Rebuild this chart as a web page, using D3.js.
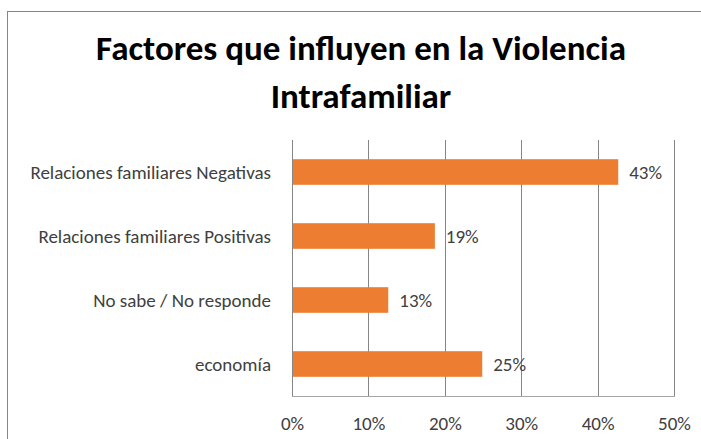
<!DOCTYPE html>
<html lang="es">
<head>
  <meta charset="utf-8">
  <title>Factores que influyen en la Violencia Intrafamiliar</title>
  <style type="text/css">
    body { margin: 0; background: #fff; }
    svg { display: block; font-family: Calibri, Carlito, Lato, sans-serif; }
  </style>
  <script src="https://cdnjs.cloudflare.com/ajax/libs/d3/7.8.5/d3.min.js"></script>
</head>
<body>
  <div id="chart"></div>
  <script>
  // datos
  var categories = ["Relaciones familiares Negativas", "Relaciones familiares Positivas", "No sabe / No responde", "economía"];
  var values = [0.427, 0.187, 0.126, 0.249];
  var ticks = [0, 0.1, 0.2, 0.3, 0.4, 0.5];
  var titleLines = ["Factores que influyen en la Violencia", "Intrafamiliar"];

  var w = 701, h = 439;
  var plotLeft = 292, plotRight = 674, plotTop = 140, plotBottom = 396;
  var labelSize = "19px";

  var svg = d3.select("#chart").append("svg")
    .attr("width", w)
    .attr("height", h);

  // marco del grafico
  svg.append("rect")
    .attr("x", 7.5).attr("y", 11.5)
    .attr("width", 720).attr("height", 460)
    .style("fill", "none")
    .style("stroke", "#868686")
    .style("stroke-width", 1);

  var x = d3.scaleLinear().domain([0, 0.5]).range([plotLeft, plotRight]);
  var y = d3.scaleBand().domain(categories).range([plotTop, plotBottom]).paddingInner(0.6).paddingOuter(0.3);

  // titulo
  svg.append("g").selectAll("text")
    .data(titleLines)
    .enter().append("text")
    .attr("x", 361)
    .attr("y", function(d, i) { return 60 + i * 48; })
    .attr("text-anchor", "middle")
    .style("font-size", "35px")
    .style("font-weight", "bold")
    .style("fill", "#000")
    .text(function(d) { return d; });

  // lineas de la cuadricula
  svg.append("g").selectAll("line")
    .data(ticks)
    .enter().append("line")
    .attr("x1", function(d) { return Math.round(x(d)) + 0.5; })
    .attr("x2", function(d) { return Math.round(x(d)) + 0.5; })
    .attr("y1", plotTop)
    .attr("y2", plotBottom)
    .style("stroke", "#868686")
    .style("stroke-width", 1);

  svg.append("line")
    .attr("x1", plotLeft).attr("x2", plotRight + 1)
    .attr("y1", plotBottom + 0.5).attr("y2", plotBottom + 0.5)
    .style("stroke", "#a6a6a6");

  // eje x
  var xAxis = d3.axisBottom(x).tickValues(ticks).tickFormat(d3.format(".0%")).tickSize(0).tickPadding(0);
  var gx = svg.append("g")
    .attr("transform", "translate(0," + (plotBottom + 34) + ")")
    .call(xAxis);
  gx.select(".domain").remove();
  gx.selectAll("text")
    .attr("dy", 0)
    .style("font-family", "Calibri, Carlito, Lato, sans-serif")
    .style("font-size", labelSize)
    .style("fill", "#404040");

  // barras
  svg.append("g").selectAll("rect")
    .data(values)
    .enter().append("rect")
    .attr("x", plotLeft + 1)
    .attr("y", function(d, i) { return y(categories[i]); })
    .attr("width", function(d) { return x(d) - plotLeft - 1; })
    .attr("height", y.bandwidth())
    .style("fill", "#ed7d31");

  // etiquetas de valor
  svg.append("g").selectAll("text")
    .data(values)
    .enter().append("text")
    .attr("x", function(d) { return x(d) + 11; })
    .attr("y", function(d, i) { return y(categories[i]) + y.bandwidth() / 2; })
    .attr("dy", "0.35em")
    .style("font-size", labelSize)
    .style("fill", "#404040")
    .text(function(d) { return d3.format(".0%")(d); });

  // categorias
  svg.append("g").selectAll("text")
    .data(categories)
    .enter().append("text")
    .attr("x", plotLeft - 21)
    .attr("y", function(d) { return y(d) + y.bandwidth() / 2; })
    .attr("dy", "0.35em")
    .attr("text-anchor", "end")
    .style("font-size", labelSize)
    .style("fill", "#404040")
    .text(function(d) { return d; });
  </script>
</body>
</html>
